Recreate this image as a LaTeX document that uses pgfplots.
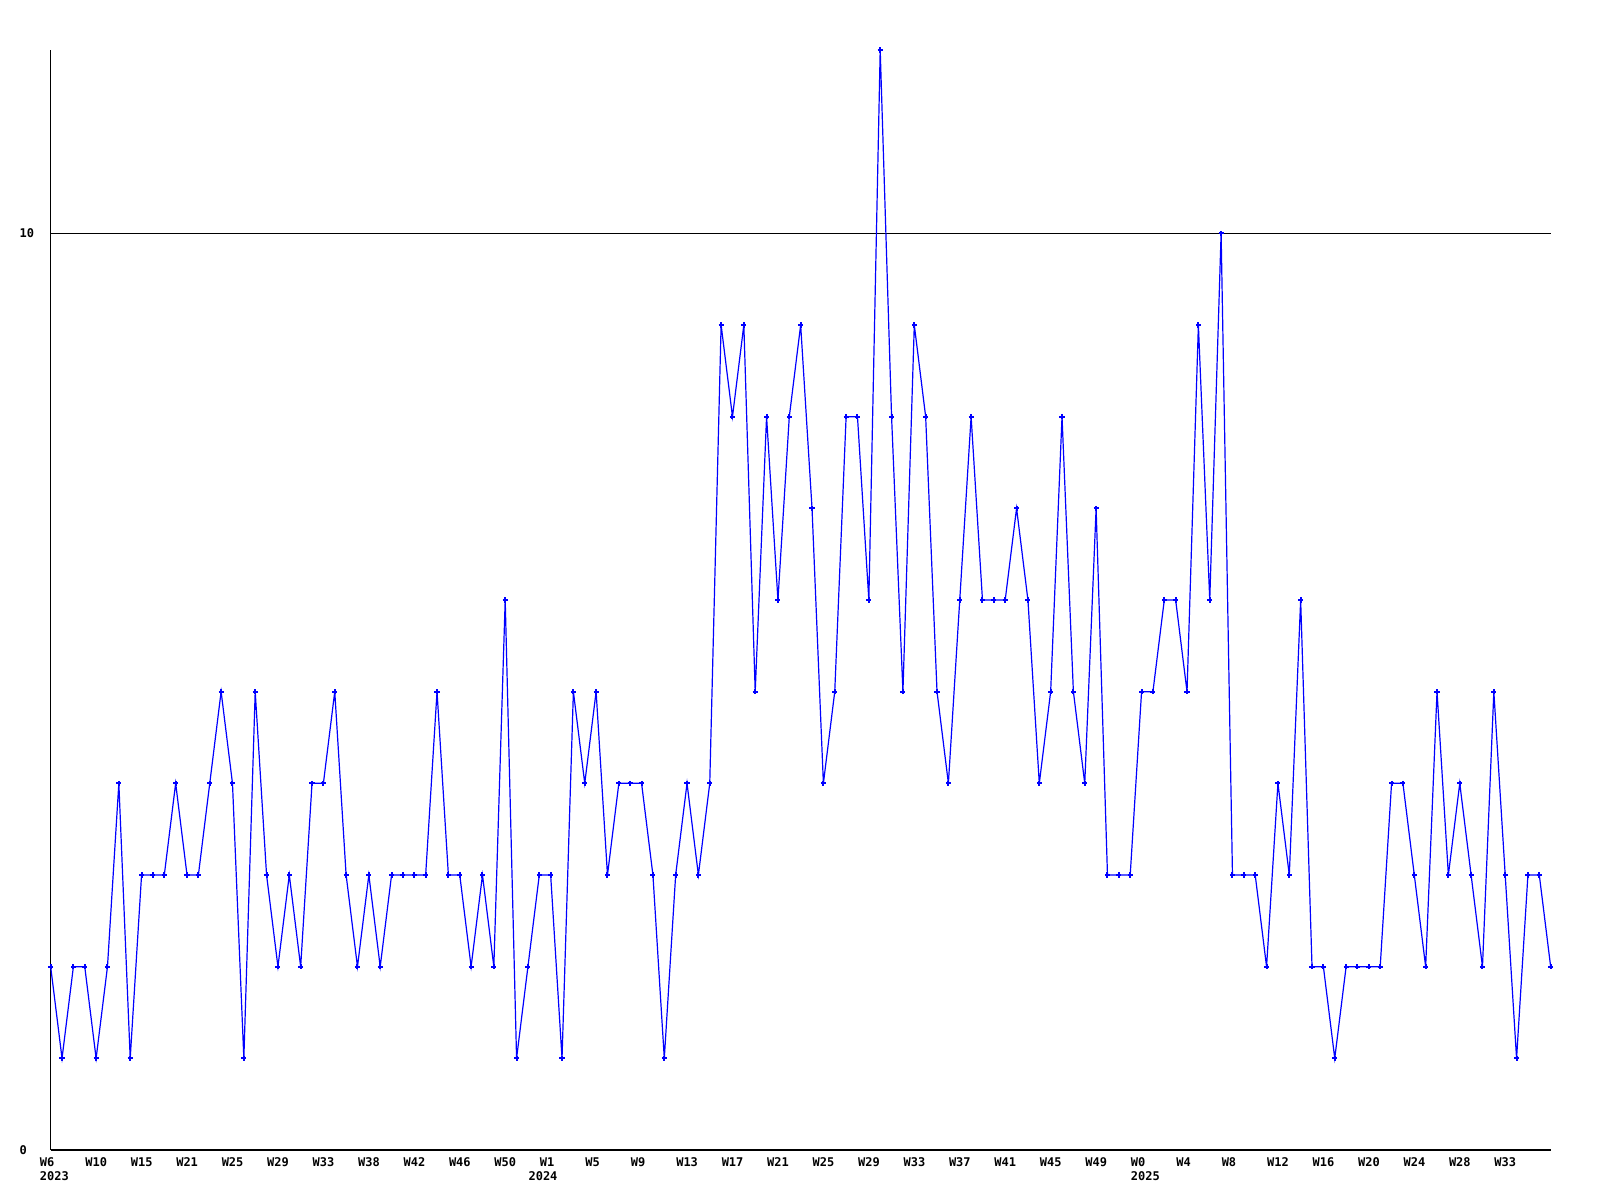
\documentclass[border=0pt]{standalone}
\usepackage{fontspec}
\setmainfont{DejaVu Sans Mono}
\usepackage{pgfplots}
\pgfplotsset{compat=1.18}
\usepackage{pgfplotstable}
\definecolor{lineblue}{RGB}{0,0,255}
\pgfplotstableread{
x y
0 2
1 1
2 2
3 2
4 1
5 2
6 4
7 1
8 3
9 3
10 3
11 4
12 3
13 3
14 4
15 5
16 4
17 1
18 5
19 3
20 2
21 3
22 2
23 4
24 4
25 5
26 3
27 2
28 3
29 2
30 3
31 3
32 3
33 3
34 5
35 3
36 3
37 2
38 3
39 2
40 6
41 1
42 2
43 3
44 3
45 1
46 5
47 4
48 5
49 3
50 4
51 4
52 4
53 3
54 1
55 3
56 4
57 3
58 4
59 9
60 8
61 9
62 5
63 8
64 6
65 8
66 9
67 7
68 4
69 5
70 8
71 8
72 6
73 12
74 8
75 5
76 9
77 8
78 5
79 4
80 6
81 8
82 6
83 6
84 6
85 7
86 6
87 4
88 5
89 8
90 5
91 4
92 7
93 3
94 3
95 3
96 5
97 5
98 6
99 6
100 5
101 9
102 6
103 10
104 3
105 3
106 3
107 2
108 4
109 3
110 6
111 2
112 2
113 1
114 2
115 2
116 2
117 2
118 4
119 4
120 3
121 2
122 5
123 3
124 4
125 3
126 2
127 5
128 3
129 1
130 3
131 3
132 2
}\datatable
\begin{document}
\begin{tikzpicture}
\useasboundingbox (-38pt,-37.5pt) rectangle (1162pt,862.5pt);
\begin{axis}[
  at={(0,0)}, anchor=south west,
  scale only axis,
  width=1125pt, height=825pt,
  xmin=0, xmax=132, ymin=0, ymax=12,
  axis x line=bottom, axis y line=left,
  axis line style={-, black, line width=0.75pt},
  major tick length=0pt,
  xtick={0,4,...,128},
  xticklabels={W6,W10,W15,W21,W25,W29,W33,W38,W42,W46,W50,W1,W5,W9,W13,W17,W21,W25,W29,W33,W37,W41,W45,W49,W0,W4,W8,W12,W16,W20,W24,W28,W33},
  xticklabel style={font=\fontsize{9}{11.5}\selectfont\bfseries, anchor=north west, inner sep=0pt, xshift=-8.25pt, yshift=-5.6pt},
  ytick={0,10},
  yticklabels={0,10},
  yticklabel style={font=\fontsize{9}{11.5}\selectfont\bfseries, anchor=west, inner sep=0pt, xshift=-23.4pt},
  ymajorgrids,
  major grid style={black, line width=0.75pt},
  clip=false,
]
\addplot[color=lineblue, line width=0.9pt, mark=+, mark size=1.9pt, mark options={line width=1.5pt, solid}] table[x=x,y=y] {\datatable};
\node[font=\fontsize{9}{11.5}\selectfont\bfseries, anchor=north west, inner sep=0pt, xshift=-8.25pt, yshift=-16.3pt] at (axis cs:0,0) {2023};
\node[font=\fontsize{9}{11.5}\selectfont\bfseries, anchor=north west, inner sep=0pt, xshift=-8.25pt, yshift=-16.3pt] at (axis cs:43,0) {2024};
\node[font=\fontsize{9}{11.5}\selectfont\bfseries, anchor=north west, inner sep=0pt, xshift=-8.25pt, yshift=-16.3pt] at (axis cs:96,0) {2025};
\end{axis}
\end{tikzpicture}
\end{document}
